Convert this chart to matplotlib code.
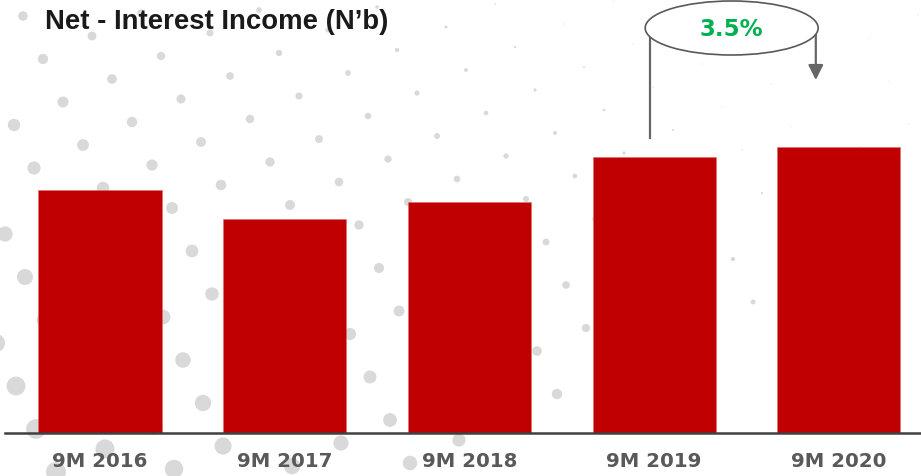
import numpy as np
import matplotlib
matplotlib.use("Agg")
import matplotlib.pyplot as plt
from matplotlib.patches import Ellipse

# chart data (heights, N'b)
periods = ["9M 2016", "9M 2017", "9M 2018", "9M 2019", "9M 2020"]
income = [243.5, 214.5, 231.0, 276.0, 286.0]
growth_label = "3.5%"
title = "Net - Interest Income (N\u2019b)"

W, H = 921, 476
fig = plt.figure(figsize=(W / 100, H / 100), dpi=100)
fig.patch.set_facecolor("white")

# background decoration: skewed lattice of grey dots, shrinking to the right
bg = fig.add_axes([0, 0, 1, 1], zorder=0)
bg.set_xlim(0, W)
bg.set_ylim(H, 0)
bg.axis("off")
dx, dy = [], []
for i in range(-4, 12):
    for j in range(-4, 24):
        px = 43 + i * 118 + j * -49
        py = 59 + i * -3 + j * 23
        if -10 < px < W + 10 and -10 < py < H + 10:
            dx.append(px)
            dy.append(py)
dx = np.array(dx)
dy = np.array(dy)
diam = np.clip(11 - 0.016 * dx + 0.025 * (dy - 60), 1.0, 20)
bg.scatter(dx, dy, s=(diam * 0.72) ** 2, color="#d9d9d9", linewidths=0)

# main bar axes, one data unit in y == one pixel
ax = fig.add_axes([0, (H - 433) / H, 1, 433 / H], zorder=1)
ax.patch.set_alpha(0)
x = np.arange(len(periods))
step = 184.7
ax.set_xlim(-100 / step, (W - 100) / step)
ax.set_ylim(0, 433)
ax.bar(x, income, width=0.666, color="#C00000", edgecolor="#e07070", linewidth=0.4)
for s in ax.spines.values():
    s.set_visible(False)
ax.axhline(0, xmin=5 / W, xmax=1, color="#404040", lw=1.8, clip_on=False)
ax.set_yticks([])
ax.set_xticks(x)
ax.set_xticklabels(periods, fontsize=14.2, fontweight="bold", color="#595959")
ax.tick_params(axis="x", length=0, pad=14)

# growth annotation between 9M 2019 and 9M 2020
ecx, ecy = 3.42, 405
ax.add_patch(Ellipse((ecx, ecy), 173 / step, 54, facecolor="white",
                     edgecolor="#595959", lw=1.2, clip_on=False, zorder=5))
ax.text(ecx, ecy - 2, growth_label, ha="center", va="center", fontsize=16.5,
        fontweight="bold", color="#00B050", zorder=6)
ax.plot([x[3] - 4 / step, x[3] - 4 / step], [income[3] + 19, 396.4],
        color="#666666", lw=1.6, zorder=4, clip_on=False)
ax.annotate("", xy=(x[4] - 23 / step, income[4] + 67),
            xytext=(x[4] - 23 / step, 398.6),
            arrowprops=dict(arrowstyle="-|>,head_length=0.9,head_width=0.45",
                            color="#666666", lw=1.6, shrinkA=0, shrinkB=0),
            zorder=4, annotation_clip=False)

fig.text(45 / W, 1 - 22 / H, title, ha="left", va="center", fontsize=19.8,
         fontweight="bold", color="#1a1a1a", family=["Liberation Sans", "DejaVu Sans"])

fig.savefig("out.png", dpi=100)
